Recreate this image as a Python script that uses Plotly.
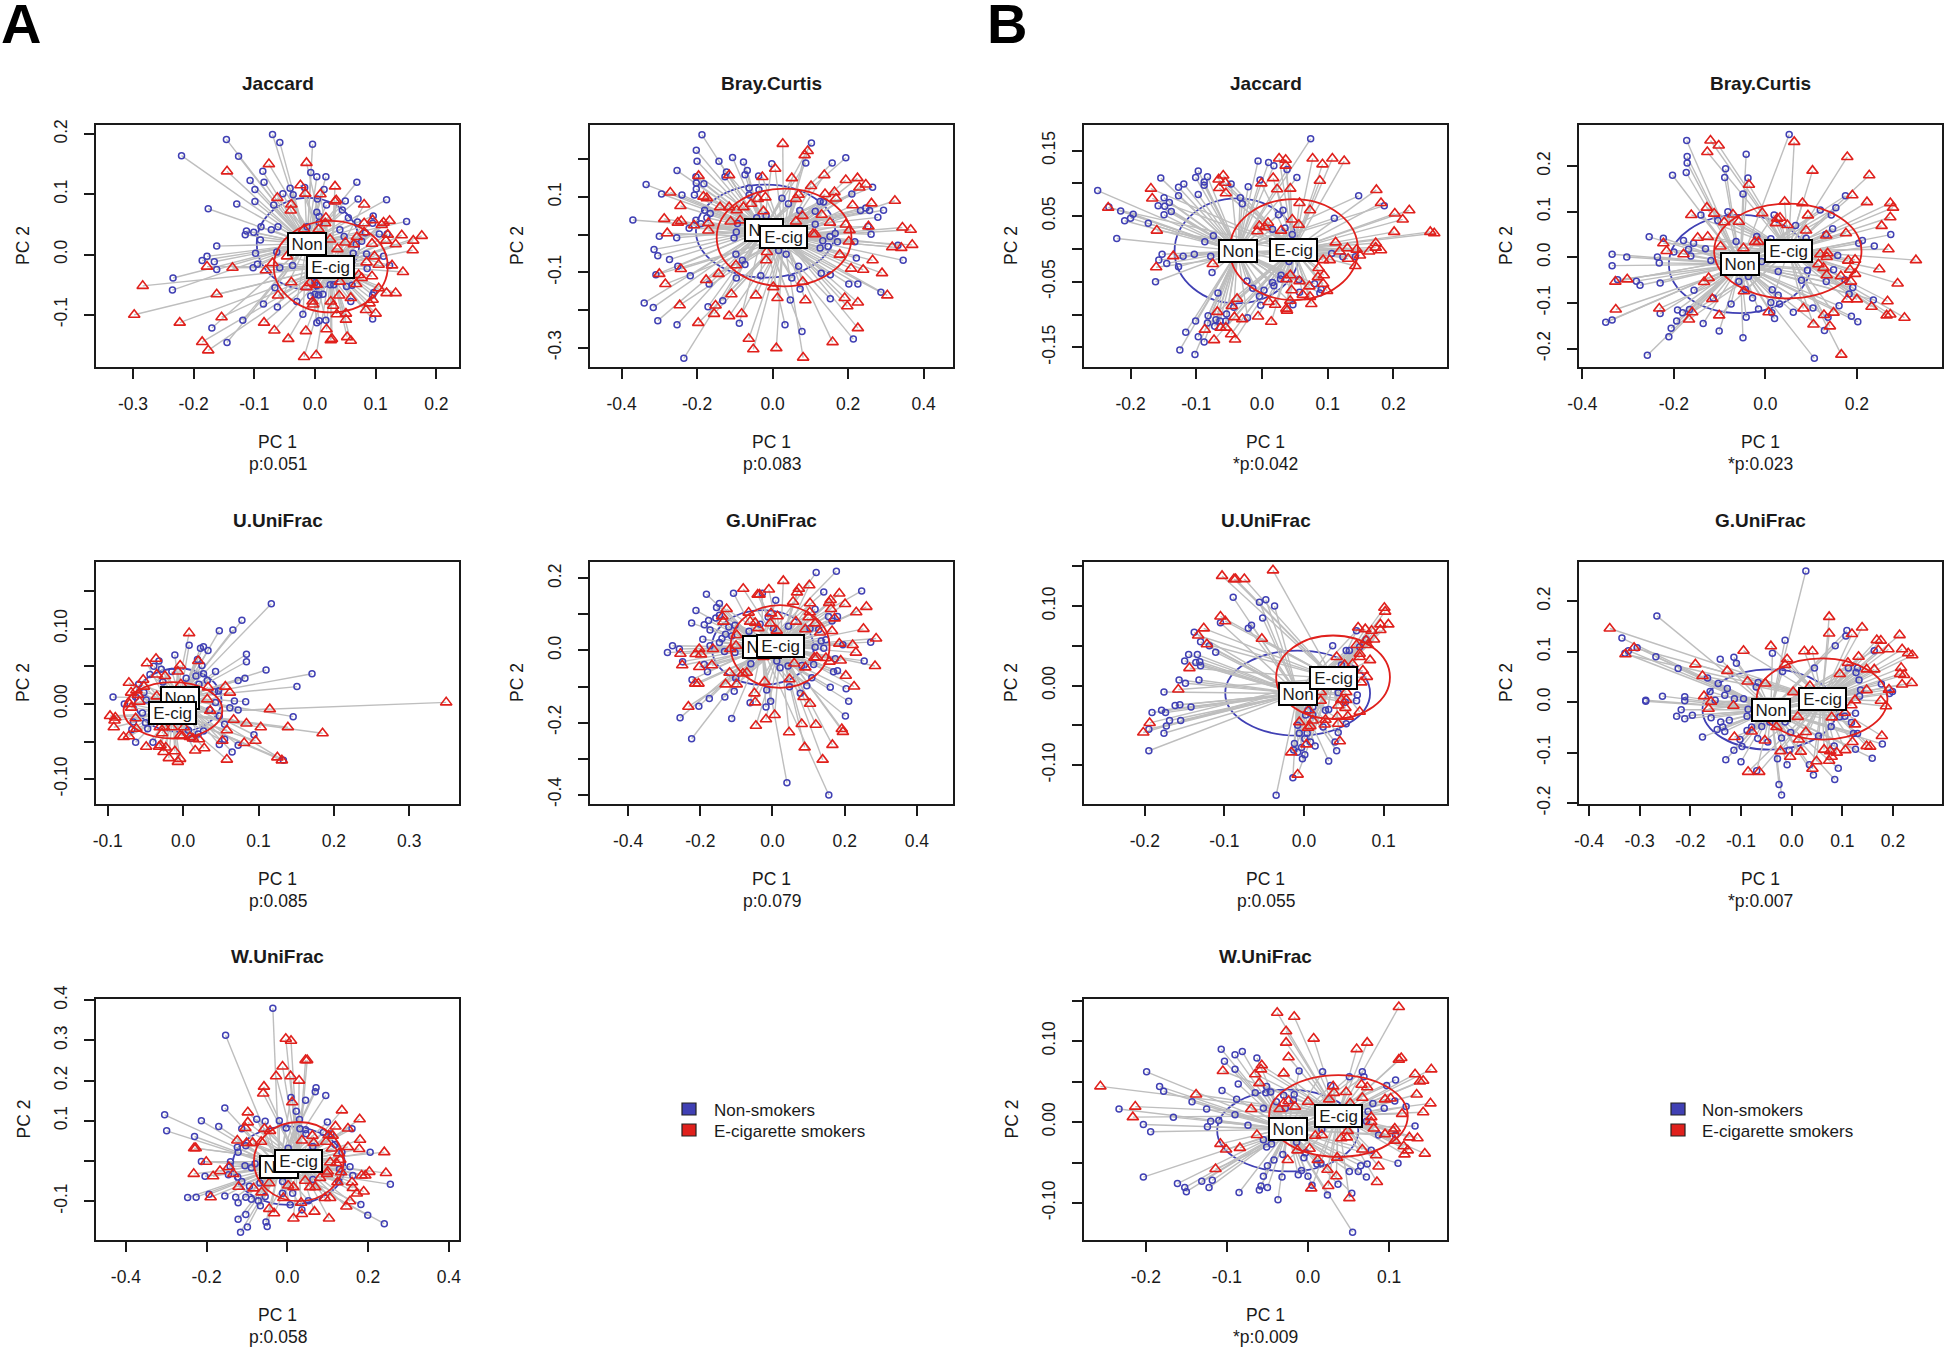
import plotly.graph_objects as go

# ---------- values: (PC 1, PC 2) ----------
A_JAC_NON = [(-.220,.164),(-.146,.191),(-.126,.163),(-.070,.199),(-.058,.186),(-.004,.183),(-.086,.138),(-.107,.123),(-.084,.120),(-.099,.108),(-.099,.088),(-.129,.084),(-.176,.076),(-.053,.101),(-.041,.110),(-.036,.099),(-.068,.082),(-.017,.111),(-.007,.136),(.003,.129),(.018,.129),(.015,.108),(.004,.092),(.019,.082),(.050,.089),(.069,.120),(.071,.092),(.118,.091),(.045,.074),(.055,.061),(.003,.070),(.007,.063),(.007,.053),(.070,.054),(.096,.064),(.095,.052),(.151,.055),(.083,.036),(.106,.034),(.119,.034),(.041,.041),(.048,.030),(.077,.022),(.068,.017),(.063,.002),(.085,.001),(.113,-.003),(.086,-.023),(.123,-.018),(-.013,.046),(-.061,.046),(-.072,.041),(-.089,.046),(-.113,.039),(-.115,.033),(-.101,.037),(-.090,.024),(-.162,.014),(-.098,.002),(-.063,.004),(-.178,-.003),(-.186,-.010),(-.166,-.012),(-.162,-.025),(-.095,-.016),(-.102,-.022),(-.058,-.022),(-.037,-.018),(-.234,-.039),(-.235,-.059),(-.066,-.055),(0,-.047),(.003,-.052),(.025,-.050),(.031,-.050),(.052,-.053),(.061,-.051),(-.007,-.069),(0,-.066),(.006,-.067),(.013,-.066),(.097,-.063),(.095,-.067),(.059,-.078),(-.085,-.082),(-.062,-.087),(-.030,-.078),(-.020,-.099),(-.119,-.109),(-.170,-.122),(-.145,-.146),(.003,-.113),(.007,-.110),(.018,-.109),(.095,-.107)]
A_JAC_ECIG = [(-.076,.150),(-.145,.138),(-.014,.152),(-.024,.115),(-.016,.101),(.009,.100),(.033,.113),(.033,.088),(.035,.090),(-.062,.094),(-.039,.083),(-.040,.073),(.081,.083),(.018,.061),(.017,.052),(.081,.052),(.095,.057),(.113,.053),(.110,.049),(.123,.056),(.117,.023),(.143,.032),(.176,.031),(.162,.023),(.161,.007),(.133,.017),(.120,.033),(.094,.018),(.069,.029),(.064,.017),(.050,.020),(.037,.009),(.025,.025),(-.018,.042),(.006,.042),(.081,.037),(.098,-.003),(.085,-.013),(.105,-.017),(.127,-.018),(.145,-.029),(.072,-.034),(.094,-.036),(.077,-.039),(.041,-.045),(.068,-.049),(.105,-.056),(.118,-.064),(.133,-.064),(.095,-.075),(.090,-.081),(.084,-.092),(.100,-.098),(.059,-.072),(.040,-.068),(.026,-.078),(.030,-.085),(.036,-.099),(.051,-.098),(.051,-.108),(.053,-.137),(.059,-.143),(.028,-.140),(.026,-.142),(.019,-.124),(.002,-.167),(-.018,-.170),(-.015,-.127),(-.044,-.140),(-.067,-.126),(-.084,-.113),(-.154,-.104),(-.176,-.159),(-.186,-.145),(-.223,-.113),(-.298,-.100),(-.284,-.052),(-.162,-.066),(-.178,-.020),(-.136,-.022),(-.081,-.026),(-.070,-.014),(-.046,-.003),(-.039,-.046),(-.061,-.068),(-.004,-.078),(-.003,-.083),(-.014,-.054),(-.008,-.047),(.003,-.050)]

A_BRAY_NON = [(-.187,.265),(.103,.243),(-.202,.224),(-.200,.195),(-.142,.195),(-.106,.205),(-.077,.193),(-.002,.188),(.088,.190),(.158,.190),(.194,.204),(-.253,.170),(-.122,.166),(-.067,.170),(-.126,.154),(-.073,.159),(-.037,.156),(-.203,.154),(-.335,.133),(-.202,.137),(-.182,.135),(-.202,.121),(-.294,.108),(-.240,.105),(-.207,.105),(-.062,.124),(-.036,.119),(-.062,.105),(.265,.126),(.210,.108),(.025,.097),(.042,.082),(.126,.088),(.135,.087),(.247,.071),(.233,.064),(.257,.064),(.294,.065),(.279,.046),(.072,.064),(.113,.062),(-.180,.065),(-.165,.056),(-.174,.045),(-.370,.039),(-.203,.038),(-.190,.029),(-.221,.017),(-.093,.030),(-.042,.045),(-.017,.050),(.113,.028),(.253,.022),(.261,.001),(-.096,.007),(-.102,-.009),(-.300,-.004),(-.254,-.008),(.152,-.005),(.166,.003),(.172,-.019),(.147,-.031),(.133,-.016),(.126,-.035),(.218,-.019),(-.314,-.039),(-.304,-.056),(-.273,-.066),(-.097,-.052),(.016,-.042),(.036,-.052),(.222,-.062),(.332,-.028),(.346,-.068),(-.251,-.084),(-.080,-.068),(-.073,-.079),(.069,-.084),(-.309,-.106),(-.218,-.109),(-.096,-.115),(-.031,-.109),(.051,-.115),(.129,-.102),(.153,-.106),(-.168,-.131),(.202,-.131),(.226,-.131),(.073,-.144),(.287,-.153),(-.132,-.175),(.047,-.173),(.153,-.170),(-.340,-.181),(-.316,-.193),(-.171,-.191),(-.304,-.228),(-.253,-.239),(-.088,-.235),(.033,-.239),(.078,-.257),(.214,-.277),(-.235,-.328)]
A_BRAY_ECIG = [(.027,.241),(.093,.222),(.085,.211),(.007,.175),(-.196,.156),(-.115,.158),(-.027,.153),(.051,.150),(.137,.158),(.194,.145),(.225,.150),(.247,.133),(.230,.125),(.102,.129),(-.271,.112),(-.244,.076),(-.183,.101),(-.174,.097),(.069,.106),(.139,.108),(.164,.113),(.168,.096),(-.019,.099),(-.039,.095),(.062,.095),(.212,.078),(.262,.083),(.324,.090),(-.139,.073),(-.115,.073),(-.077,.073),(-.057,.082),(-.095,.065),(-.024,.062),(.079,.050),(.130,.053),(-.287,.042),(-.251,.032),(-.242,.036),(-.208,.025),(-.170,.031),(-.170,.011),(-.111,.035),(-.086,.038),(.062,.035),(.152,.032),(.194,.027),(.204,.012),(.254,.022),(.344,.019),(.366,.013),(.370,-.027),(.317,-.033),(.341,-.035),(.202,-.018),(.107,.002),(.113,.001),(-.279,.004),(-.015,-.046),(-.017,-.068),(.178,-.053),(.265,-.068),(.208,-.090),(.240,-.093),(.290,-.102),(-.243,-.091),(-.300,-.104),(-.284,-.131),(-.097,-.081),(-.143,-.104),(-.176,-.120),(.080,-.125),(.002,-.139),(-.109,-.158),(-.044,-.161),(.013,-.168),(.087,-.174),(.191,-.168),(.226,-.180),(.198,-.190),(.304,-.161),(-.246,-.187),(-.151,-.188),(-.155,-.210),(-.115,-.216),(-.082,-.210),(-.197,-.234),(.226,-.248),(-.063,-.276),(-.051,-.304),(.010,-.301),(.081,-.326),(.159,-.285)]

A_UNI_NON = [(.117,.133),(.078,.111),(.048,.097),(.066,.098),(.008,.078),(.023,.074),(.027,.076),(.033,.071),(-.011,.065),(.084,.066),(.084,.056),(.019,.059),(.025,.051),(-.032,.057),(-.039,.050),(-.029,.046),(-.044,.039),(-.015,.043),(.043,.043),(.110,.045),(.171,.040),(.082,.034),(.073,.031),(.151,.023),(.004,.034),(.017,.037),(.027,.040),(.032,.031),(.021,.026),(-.027,.029),(-.059,.026),(-.052,.015),(-.093,.009),(-.078,.000),(-.063,.009),(-.049,.005),(.047,.017),(.042,.016),(.068,.004),(.083,.003),(.043,.002),(.062,-.005),(.073,-.008),(.035,-.008),(.146,-.017),(-.054,-.012),(.048,-.016),(-.066,-.024),(-.050,-.025),(-.068,-.034),(-.047,-.033),(.055,-.027),(.094,-.041),(.020,-.040),(.027,-.036),(.007,-.035),(-.063,-.051),(-.040,-.051),(.055,-.047),(.048,-.054),(.073,-.055),(.065,-.064),(.133,-.075),(.011,-.046)]
A_UNI_ECIG = [(.349,.002),(.185,-.039),(.115,-.007),(.139,-.031),(.103,-.031),(.084,-.026),(.067,-.021),(.058,-.035),(.081,-.052),(.096,-.049),(.125,-.071),(.131,-.075),(.058,-.074),(.028,-.059),(.016,-.062),(.052,-.049),(.008,.094),(.020,.057),(-.004,.051),(-.007,.043),(-.036,.060),(-.048,.054),(-.035,.039),(-.024,.037),(-.053,.032),(-.072,.028),(-.052,.023),(-.069,.015),(-.062,.018),(-.060,.012),(-.058,.003),(-.071,.000),(-.069,-.005),(-.035,.010),(-.003,.026),(.056,.023),(.062,.015),(.033,.022),(.032,.006),(.036,-.009),(-.097,-.016),(-.090,-.018),(-.091,-.022),(-.092,-.031),(-.079,-.044),(-.072,-.043),(-.063,-.019),(-.062,-.033),(-.049,-.057),(-.031,-.031),(-.025,-.031),(-.015,-.031),(-.028,-.039),(-.030,-.055),(-.032,-.057),(-.023,-.058),(-.026,-.064),(-.011,-.063),(-.019,-.072),(-.004,-.073),(-.007,-.077),(-.004,-.042),(.001,-.031),(-.001,-.043),(.009,-.044),(.021,-.047),(.013,-.046)]

A_GUNI_NON = [(.177,.220),(.121,.216),(.247,.165),(.142,.162),(-.108,.159),(-.183,.156),(-.028,.159),(.009,.139),(-.147,.130),(-.155,.119),(-.212,.111),(.118,.114),(.180,.094),(.155,.094),(.165,.082),(-.147,.098),(-.157,.090),(-.177,.083),(-.224,.076),(-.189,.071),(-.173,.057),(-.121,.065),(-.104,.070),(-.012,.093),(-.034,.073),(.044,.067),(.003,.061),(-.065,.053),(-.130,.045),(-.140,.033),(-.193,.031),(-.113,.040),(-.147,.022),(-.173,.013),(-.277,.013),(-.258,.004),(-.291,-.006),(-.133,-.003),(-.104,-.006),(.128,.058),(.104,.061),(.148,.030),(.135,.026),(.118,.009),(.142,.006),(.195,.016),(.272,.023),(.254,-.029),(.174,-.023),(.114,-.039),(.081,-.042),(.043,-.043),(.021,-.048),(.012,-.029),(-.060,-.037),(-.249,-.031),(-.189,-.039),(-.180,-.059),(.169,-.059),(.180,-.056),(.109,-.076),(-.102,-.077),(-.223,-.081),(.095,-.098),(.047,-.101),(.160,-.102),(.204,-.106),(-.106,-.113),(-.016,-.110),(.077,-.119),(-.175,-.133),(-.132,-.129),(-.062,-.145),(-.005,-.141),(.211,-.141),(-.204,-.155),(-.018,-.157),(.202,-.182),(-.256,-.187),(-.113,-.189),(-.224,-.245),(.040,-.367),(.156,-.401)]
A_GUNI_ECIG = [(.030,.193),(.102,.181),(.073,.171),(.068,.161),(-.081,.171),(-.010,.169),(-.041,.155),(-.036,.155),(.185,.158),(.161,.140),(.157,.132),(.057,.135),(.104,.131),(.201,.129),(.260,.121),(-.127,.115),(.162,.115),(.232,.106),(.103,.106),(.100,.092),(-.066,.105),(-.139,.094),(.014,.095),(-.004,.103),(-.136,.080),(-.062,.080),(-.048,.077),(-.006,.075),(.065,.080),(.118,.075),(.172,.089),(.252,.060),(.165,.054),(.091,.059),(.132,.050),(-.039,.062),(.012,.055),(-.099,.043),(.287,.033),(.222,.015),(.185,.019),(-.101,.013),(-.117,.004),(-.203,.004),(-.165,.004),(-.213,-.010),(-.198,-.011),(-.255,-.009),(.231,-.006),(.148,-.021),(.116,-.020),(.123,-.019),(.158,-.031),(.189,-.028),(-.250,-.041),(-.203,-.046),(-.168,-.041),(.060,-.036),(.091,-.047),(.284,-.043),(-.119,-.062),(-.082,-.064),(-.071,-.062),(.203,-.070),(.047,-.080),(-.022,-.087),(-.130,-.094),(-.099,-.094),(-.214,-.092),(-.205,-.092),(.226,-.100),(-.050,-.119),(.086,-.129),(-.048,-.144),(.104,-.148),(-.233,-.156),(.006,-.179),(-.018,-.191),(.081,-.204),(.120,-.206),(-.046,-.209),(.046,-.227),(.192,-.218),(.195,-.226),(.166,-.262),(.089,-.269),(.139,-.303),(-.025,-.018)]

A_WUNI_NON = [(-.036,.380),(-.153,.313),(.071,.182),(.069,.172),(.095,.163),(.009,.158),(.045,.151),(-.155,.132),(.022,.124),(-.304,.115),(-.213,.100),(-.170,.086),(-.299,.075),(-.230,.061),(-.076,.104),(-.055,.099),(-.020,.100),(.030,.103),(.099,.097),(-.113,.080),(-.003,.082),(.031,.080),(.045,.078),(.046,.068),(.160,.080),(.089,.071),(.108,.067),(.118,.041),(.135,.022),(.205,.022),(-.124,.034),(-.103,.038),(.063,.036),(.002,.032),(-.122,.022),(-.213,-.001),(-.141,-.002),(-.142,-.013),(-.105,-.012),(-.089,-.017),(-.080,-.007),(.129,-.020),(.155,-.014),(-.204,-.038),(-.146,-.034),(-.123,-.040),(-.113,-.051),(-.094,-.063),(-.068,-.055),(-.012,-.051),(.063,-.046),(.127,-.051),(.162,-.036),(.255,-.058),(-.247,-.091),(-.226,-.090),(-.194,-.083),(-.155,-.087),(-.128,-.090),(-.122,-.104),(-.103,-.090),(-.089,-.095),(-.072,-.099),(-.055,-.088),(-.067,-.111),(-.012,-.080),(.013,-.080),(.007,-.109),(.052,-.099),(.036,-.121),(.182,-.108),(.199,-.135),(.240,-.156),(-.103,-.133),(-.122,-.145),(-.099,-.164),(-.116,-.177),(-.053,-.152),(-.050,-.163)]
A_WUNI_ECIG = [(-.004,.304),(.009,.299),(.045,.251),(.049,.251),(-.012,.235),(.008,.211),(-.028,.211),(.029,.200),(-.058,.185),(-.060,.168),(.012,.146),(.135,.126),(-.098,.121),(-.098,.096),(-.104,.082),(-.057,.080),(-.043,.075),(.179,.104),(.119,.086),(.150,.081),(.102,.064),(.112,.063),(.096,.048),(.062,.063),(.036,.051),(.065,.045),(-.124,.051),(.180,.053),(-.231,.032),(-.227,.032),(-.101,.045),(-.086,.045),(-.065,.048),(.110,.031),(.150,.035),(.178,.030),(.240,.022),(.128,.019),(-.201,-.002),(.106,-.003),(.121,-.005),(.131,.003),(-.145,-.015),(-.167,-.025),(-.232,-.032),(-.184,-.038),(-.134,-.032),(.100,-.026),(.098,-.032),(.133,-.028),(.203,-.027),(.184,-.036),(.193,-.036),(.244,-.030),(.081,-.042),(.124,-.053),(.160,-.053),(-.121,-.064),(-.045,-.055),(.044,-.049),(.002,-.061),(.015,-.065),(.056,-.065),(.069,-.065),(-.084,-.068),(-.064,-.078),(.162,-.067),(.172,-.081),(.189,-.076),(-.190,-.090),(-.010,-.092),(.093,-.092),(.106,-.092),(.155,-.100),(.146,-.113),(.034,-.104),(.036,-.132),(-.045,-.119),(-.033,-.130),(.067,-.126),(.015,-.143),(.103,-.143)]

B_JAC_NON = [(.074,.168),(-.006,.134),(.010,.132),(.018,.127),(.038,.121),(-.097,.119),(-.101,.109),(-.083,.110),(-.154,.108),(-.088,.102),(-.088,.097),(-.119,.099),(-.127,.094),(.053,.109),(-.003,.105),(-.021,.095),(-.047,.099),(-.250,.089),(-.127,.081),(-.097,.083),(-.149,.078),(-.141,.071),(-.158,.066),(-.148,.065),(-.033,.078),(-.030,.069),(-.233,.064),(-.215,.058),(-.138,.057),(-.149,.052),(-.196,.053),(-.200,.047),(-.209,.043),(-.173,.039),(.147,.081),(.186,.066),(.110,.047),(.032,.059),(.025,.052),(.035,.032),(.016,.030),(.046,.022),(-.221,.016),(-.074,.020),(-.087,.011),(-.152,-.008),(-.120,-.011),(-.103,-.008),(-.078,-.011),(-.157,-.017),(-.145,-.022),(-.127,-.027),(-.076,-.036),(-.162,-.050),(.106,-.007),(.123,-.012),(.142,-.012),(.041,-.019),(.029,-.040),(.028,-.046),(.016,-.051),(-.023,-.049),(.018,-.056),(.003,-.063),(-.014,-.060),(.056,-.047),(.080,-.053),(.090,-.062),(.088,-.067),(.057,-.066),(-.067,-.067),(-.004,-.072),(-.002,-.086),(.047,-.085),(-.043,-.089),(-.054,-.099),(-.082,-.102),(-.022,-.105),(-.101,-.110),(-.070,-.108),(-.064,-.110),(-.055,-.110),(-.083,-.113),(-.072,-.118),(-.116,-.127),(-.097,-.134),(-.088,-.142),(-.125,-.154),(-.102,-.161)]
B_JAC_ECIG = [(.026,.138),(.036,.136),(.036,.127),(.077,.138),(.107,.138),(.125,.134),(.092,.129),(-.059,.112),(-.066,.106),(-.056,.101),(-.065,.093),(-.001,.100),(.017,.108),(.088,.104),(-.169,.092),(.023,.091),(.043,.092),(.174,.090),(-.055,.085),(-.167,.077),(.057,.070),(.181,.070),(-.234,.063),(.073,.059),(.202,.054),(.224,.059),(.214,.045),(.046,.045),(.056,.037),(.009,.040),(-.004,.035),(.004,.033),(-.007,.027),(.029,.028),(-.160,.028),(.201,.026),(.256,.026),(.262,.024),(.112,.010),(.173,.009),(.130,.001),(.144,-.001),(.173,.002),(.181,-.002),(.163,-.004),(.118,-.004),(.149,-.010),(-.135,-.011),(.131,-.015),(.103,-.017),(.093,-.017),(.142,-.026),(-.161,-.028),(-.075,-.023),(.086,-.029),(.094,-.040),(.085,-.043),(.043,-.040),(.057,-.049),(.093,-.053),(.037,-.046),(.072,-.057),(.045,-.063),(.099,-.064),(.062,-.070),(.073,-.073),(-.038,-.076),(.043,-.079),(.010,-.081),(.020,-.085),(.075,-.084),(-.046,-.087),(-.068,-.096),(.037,-.091),(.038,-.094),(-.042,-.104),(-.030,-.107),(-.006,-.103),(.014,-.111),(-.087,-.123),(-.063,-.120),(-.055,-.120),(-.047,-.130),(-.073,-.139),(-.041,-.138)]

B_BRAY_NON = [(.052,.269),(-.172,.256),(-.042,.226),(-.171,.221),(-.171,.207),(-.087,.194),(-.173,.186),(-.203,.180),(-.089,.175),(-.038,.174),(-.049,.139),(.175,.135),(.154,.109),(.120,.104),(.144,.093),(-.141,.093),(-.082,.100),(-.104,.081),(.019,.093),(.066,.070),(.147,.063),(.132,.050),(.274,.050),(-.254,.045),(-.223,.042),(-.019,.046),(.012,.041),(.089,.042),(.212,.037),(.204,.031),(-.179,.037),(-.064,.035),(-.157,.031),(-.131,.019),(-.168,.018),(.238,.025),(-.335,.007),(-.303,.001),(-.236,.001),(-.200,.012),(-.163,.003),(.158,.004),(-.119,-.007),(-.232,-.012),(-.335,-.018),(-.008,-.009),(.092,-.028),(.028,-.031),(.149,-.027),(-.323,-.049),(-.282,-.052),(-.274,-.061),(-.230,-.056),(-.037,-.042),(-.058,-.053),(.079,-.050),(.133,-.053),(.174,-.049),(.191,-.066),(-.156,-.072),(-.044,-.070),(.015,-.071),(.028,-.083),(.183,-.080),(-.114,-.089),(-.028,-.089),(-.075,-.102),(.012,-.099),(.031,-.102),(.236,-.093),(.161,-.106),(-.192,-.115),(-.181,-.121),(-.166,-.114),(-.230,-.123),(-.015,-.113),(.014,-.121),(.061,-.120),(.104,-.111),(.020,-.134),(.188,-.129),(.137,-.131),(.202,-.141),(-.042,-.131),(-.335,-.137),(-.349,-.142),(-.194,-.139),(-.136,-.145),(-.206,-.155),(-.101,-.161),(.129,-.160),(-.211,-.174),(-.049,-.176),(-.258,-.214),(.107,-.221)]
B_BRAY_ECIG = [(-.120,.256),(-.102,.245),(.063,.253),(-.127,.231),(.179,.220),(.103,.190),(.227,.180),(-.036,.159),(.190,.136),(.042,.122),(.081,.119),(.222,.121),(.273,.119),(.279,.109),(-.128,.109),(-.162,.093),(-.112,.096),(-.007,.097),(-.071,.094),(.093,.092),(.032,.087),(.026,.085),(.273,.088),(.023,.075),(-.058,.078),(-.090,.077),(.048,.071),(.089,.059),(.254,.069),(.176,.053),(.133,.048),(-.148,.043),(-.126,.045),(-.223,.031),(-.023,.034),(-.015,.034),(-.098,.024),(-.048,.020),(-.216,.014),(-.179,.007),(.269,.018),(.120,.007),(.136,.009),(.134,.001),(.181,-.007),(.196,-.005),(.329,-.006),(.116,-.015),(.127,-.023),(.185,-.027),(.249,-.026),(.196,-.036),(.134,-.039),(.165,-.041),(-.124,-.045),(-.134,-.054),(-.328,-.053),(-.302,-.048),(.187,-.053),(.289,-.057),(-.047,-.074),(-.116,-.091),(.179,-.092),(.200,-.092),(.267,-.096),(-.327,-.114),(-.232,-.112),(.083,-.112),(.232,-.108),(-.160,-.120),(-.101,-.127),(.007,-.120),(.128,-.126),(.149,-.121),(.265,-.127),(.273,-.125),(.304,-.132),(-.167,-.136),(.105,-.147),(.141,-.151),(.166,-.213)]

B_UNI_NON = [(-.089,.111),(-.048,.108),(-.056,.105),(-.037,.100),(-.052,.085),(-.105,.079),(-.066,.076),(-.070,.072),(-.138,.067),(-.130,.055),(-.119,.050),(-.111,.042),(-.145,.039),(-.134,.039),(-.150,.031),(-.136,.029),(-.131,.030),(-.130,.025),(-.157,.007),(-.149,.003),(-.132,.007),(-.176,-.008),(-.162,-.025),(-.156,-.024),(-.142,-.027),(-.179,-.031),(-.174,-.034),(-.191,-.034),(-.169,-.044),(-.155,-.044),(-.173,-.051),(-.195,-.055),(-.176,-.060),(-.195,-.082),(.036,.050),(.053,.044),(.057,.044),(.066,.069),(.078,.058),(.070,.049),(.047,.026),(.043,-.009),(.067,-.012),(.066,-.019),(.052,-.021),(.027,-.031),(.031,-.030),(.011,-.027),(.005,-.031),(.011,-.037),(.002,-.037),(.053,-.048),(.043,-.059),(.024,-.052),(-.008,-.050),(-.006,-.060),(.004,-.060),(.001,-.067),(.008,-.071),(.039,-.071),(.014,-.076),(-.012,-.073),(-.013,-.081),(-.008,-.084),(-.003,-.078),(.001,-.087),(-.002,-.092),(.041,-.082),(.031,-.095),(-.014,-.116),(-.035,-.138)]
B_UNI_ECIG = [(-.039,.145),(-.103,.138),(-.088,.134),(-.086,.134),(-.075,.134),(.101,.098),(.102,.093),(-.105,.087),(-.099,.081),(-.126,.072),(-.133,.063),(-.053,.059),(-.122,.052),(-.144,.022),(-.158,-.005),(-.194,-.047),(-.202,-.059),(.106,.077),(.096,.077),(.096,.070),(.068,.073),(.077,.071),(.085,.069),(.088,.058),(.078,.057),(.080,.051),(.066,.051),(.041,.036),(.070,.036),(.083,.032),(.070,.040),(.051,.026),(.061,.027),(.074,.019),(.079,.011),(.072,.004),(.053,-.008),(.021,-.008),(.021,-.019),(.047,-.018),(.053,-.018),(.043,-.025),(.052,-.028),(.070,-.033),(.006,-.031),(.055,-.039),(.042,-.039),(.011,-.044),(.027,-.043),(-.006,-.046),(.043,-.048),(.026,-.049),(.008,-.051),(.005,-.053),(.003,-.074),(.045,-.070),(-.016,-.084),(-.008,-.112)]

B_GUNI_NON = [(.028,.260),(-.266,.171),(.109,.142),(.107,.131),(-.335,.127),(-.013,.123),(.086,.112),(.163,.102),(-.305,.108),(-.322,.102),(-.329,.097),(-.038,.097),(-.268,.090),(-.114,.089),(-.141,.085),(-.109,.077),(-.224,.067),(.045,.068),(.112,.068),(.130,.068),(.127,.059),(-.018,.061),(-.166,.048),(-.145,.037),(-.066,.039),(-.070,.030),(.133,.044),(.177,.036),(-.127,.027),(-.161,.021),(.136,.024),(.199,.021),(.193,.017),(-.255,.012),(-.288,.004),(-.288,.002),(-.211,.011),(-.211,.003),(-.132,.014),(-.113,.007),(-.095,.007),(-.151,.004),(.134,.012),(-.218,-.015),(-.227,-.028),(-.211,-.033),(-.196,-.026),(-.086,-.014),(-.088,-.028),(-.159,-.031),(-.123,-.036),(-.140,-.039),(-.136,-.049),(-.147,-.054),(-.132,-.058),(-.079,-.049),(-.059,-.048),(-.088,-.056),(-.043,-.039),(-.013,-.039),(.095,-.029),(.105,-.028),(.126,-.022),(.118,-.040),(.078,-.048),(-.002,-.060),(.053,-.067),(.122,-.062),(.130,-.062),(-.176,-.069),(-.102,-.074),(-.067,-.072),(-.047,-.079),(-.020,-.071),(-.098,-.088),(-.114,-.095),(-.005,-.095),(.084,-.087),(.126,-.093),(.179,-.083),(-.130,-.114),(-.100,-.118),(-.028,-.112),(.159,-.111),(-.009,-.124),(.035,-.124),(.043,-.144),(.092,-.131),(-.069,-.136),(.085,-.153),(-.025,-.163),(-.020,-.184)]
B_GUNI_ECIG = [(-.359,.146),(.074,.169),(.139,.148),(.074,.136),(.119,.135),(.213,.133),(.168,.123),(.176,.122),(-.311,.108),(-.041,.111),(.025,.101),(.041,.101),(-.095,.102),(.171,.103),(.191,.105),(.218,.105),(.230,.097),(.238,.093),(-.328,.095),(.132,.090),(-.009,.085),(-.013,.074),(.111,.078),(-.190,.075),(.216,.068),(.148,.065),(.163,.065),(-.127,.062),(-.176,.052),(.095,.056),(.214,.056),(.222,.054),(-.087,.041),(-.052,.037),(.036,.032),(.218,.035),(.237,.038),(.148,.024),(.003,.020),(.192,.025),(-.173,.012),(.125,.004),(.176,.003),(-.159,.001),(-.115,-.007),(.186,-.008),(.118,-.006),(-.164,-.013),(.105,-.021),(.012,-.029),(.079,-.030),(.125,-.044),(-.030,-.049),(-.079,-.058),(.028,-.059),(-.113,-.069),(.178,-.067),(-.053,-.076),(.014,-.074),(.120,-.079),(-.022,-.097),(.018,-.098),(.064,-.094),(.076,-.097),(.089,-.100),(.106,-.095),(.148,-.087),(.155,-.088),(.079,-.108),(-.003,-.108),(.074,-.116),(.049,-.117),(.041,-.132),(-.086,-.138),(-.064,-.138)]

B_WUNI_NON = [(-.107,.090),(-.081,.087),(-.090,.083),(-.103,.075),(-.063,.079),(-.090,.065),(-.011,.063),(.018,.062),(.067,.062),(.069,.056),(.051,.056),(-.199,.062),(-.183,.044),(-.178,.038),(-.086,.047),(-.106,.039),(.108,.052),(.097,.045),(.028,.045),(-.051,.044),(-.065,.036),(-.046,.037),(-.052,.036),(-.030,.033),(-.017,.034),(-.018,.027),(-.039,.025),(-.028,.017),(-.088,.028),(-.143,.025),(.107,.026),(.121,.019),(.080,.023),(.094,.017),(-.055,.017),(-.125,.016),(-.090,.009),(-.233,.016),(-.166,.006),(.074,.013),(-.120,.001),(-.110,.002),(.072,.001),(-.203,-.003),(-.124,-.006),(-.074,-.004),(-.194,-.012),(.132,-.005),(.087,-.016),(.108,-.016),(.017,-.009),(-.055,-.022),(-.014,-.025),(-.051,-.031),(-.045,-.027),(.078,-.035),(-.031,-.040),(-.005,-.044),(-.003,-.038),(-.042,-.047),(.011,-.052),(.016,-.051),(.111,-.051),(.073,-.052),(.065,-.054),(-.050,-.054),(-.008,-.060),(.051,-.061),(.062,-.061),(-.012,-.065),(.000,-.067),(.072,-.068),(-.055,-.067),(-.032,-.068),(-.203,-.068),(-.161,-.076),(-.131,-.073),(-.118,-.072),(-.122,-.081),(-.152,-.081),(-.150,-.086),(-.085,-.087),(-.058,-.079),(-.060,-.084),(-.050,-.081),(.005,-.078),(.037,-.077),(.024,-.090),(-.037,-.096),(.054,-.088),(.055,-.136)]
B_WUNI_ECIG = [(.112,.142),(-.038,.135),(-.017,.130),(-.027,.112),(.007,.103),(-.027,.098),(.073,.098),(.060,.090),(-.024,.080),(.115,.079),(.112,.077),(-.057,.070),(-.058,.065),(-.105,.063),(-.065,.059),(-.030,.060),(.152,.065),(.132,.059),(.142,.051),(.138,.050),(-.060,.048),(-.256,.044),(.031,.044),(.066,.046),(.073,.043),(.047,.037),(.032,.036),(-.138,.034),(.134,.034),(.067,.030),(.026,.028),(.095,.028),(.102,.029),(.000,.025),(-.030,.023),(-.024,.026),(-.016,.019),(.052,.023),(.151,.023),(-.213,.019),(-.070,.016),(-.035,.016),(.142,.012),(.116,.010),(-.216,.006),(.078,.006),(.078,.000),(.081,-.008),(.107,-.008),(.049,-.011),(.095,-.015),(.105,-.011),(-.063,-.016),(.009,-.017),(.017,-.016),(.041,-.020),(.048,-.019),(.125,-.019),(.135,-.020),(-.108,-.027),(.107,-.023),(-.101,-.034),(-.084,-.032),(-.013,-.035),(.002,-.033),(.067,-.034),(.118,-.030),(.123,-.035),(.119,-.040),(.144,-.039),(.084,-.041),(-.025,-.047),(.012,-.047),(.036,-.044),(.087,-.055),(-.114,-.058),(.024,-.059),(.035,-.067),(.085,-.074),(.025,-.079),(.004,-.082),(.051,-.094)]

# group centres and ellipse extents (x min, x max, y min, y max)
CENTRES = {
 "A_JAC": ((-.013,.018),(.026,-.020)), "A_BRAY": ((-.024,.012),(.029,-.007)),
 "A_UNI": ((-.004,.008),(-.014,-.012)), "A_GUNI": ((-.029,.009),(.022,.012)),
 "A_WUNI": ((-.020,-.015),(.027,-.001)), "B_JAC": ((-.037,-.003),(.048,-.001)),
 "B_BRAY": ((-.055,-.015),(.050,.015)), "B_UNI": ((-.008,-.010),(.037,.009)),
 "B_GUNI": ((-.041,-.015),(.060,.006)), "B_WUNI": ((-.025,-.009),(.037,.008)),
}
ELLIPSES = {
 "A_JAC": ((-.096,.073,-.058,.094),(-.068,.120,-.096,.056)),
 "A_BRAY": ((-.203,.166,-.114,.133),(-.148,.209,-.137,.122)),
 "A_UNI": ((-.064,.051,-.037,.047),(-.079,.052,-.046,.029)),
 "A_GUNI": ((-.168,.114,-.096,.112),(-.116,.158,-.104,.126)),
 "A_WUNI": ((-.136,.143,-.109,.086),(-.083,.139,-.100,.097)),
 "B_JAC": ((-.133,.057,-.083,.077),(-.049,.146,-.078,.076)),
 "B_BRAY": ((-.211,.099,-.122,.093),(-.112,.210,-.090,.118)),
 "B_UNI": ((-.099,.083,-.063,.044),(-.035,.108,-.042,.063)),
 "B_GUNI": ((-.176,.089,-.094,.065),(-.069,.189,-.074,.087)),
 "B_WUNI": ((-.112,.062,-.061,.040),(-.048,.123,-.043,.058)),
}
TITLES = {"JAC":"Jaccard","BRAY":"Bray.Curtis","UNI":"U.UniFrac","GUNI":"G.UniFrac","WUNI":"W.UniFrac"}
P_TEXT = {"A_JAC":"p:0.051","A_BRAY":"p:0.083","A_UNI":"p:0.085","A_GUNI":"p:0.079","A_WUNI":"p:0.058",
          "B_JAC":"*p:0.042","B_BRAY":"*p:0.023","B_UNI":"p:0.055","B_GUNI":"*p:0.007","B_WUNI":"*p:0.009"}
DATA = {"A_JAC":(A_JAC_NON,A_JAC_ECIG),"A_BRAY":(A_BRAY_NON,A_BRAY_ECIG),"A_UNI":(A_UNI_NON,A_UNI_ECIG),
        "A_GUNI":(A_GUNI_NON,A_GUNI_ECIG),"A_WUNI":(A_WUNI_NON,A_WUNI_ECIG),"B_JAC":(B_JAC_NON,B_JAC_ECIG),
        "B_BRAY":(B_BRAY_NON,B_BRAY_ECIG),"B_UNI":(B_UNI_NON,B_UNI_ECIG),"B_GUNI":(B_GUNI_NON,B_GUNI_ECIG),
        "B_WUNI":(B_WUNI_NON,B_WUNI_ECIG)}
# axis: x range, y range, x ticks, y ticks, y tick labels
AXES = {
 "A_JAC": ((-.361,.2374),(-.1866,.2149),[-.3,-.2,-.1,0,.1,.2],[-.1,0,.1,.2],["-0.1","0.0","0.1","0.2"]),
 "A_BRAY": ((-.4836,.478),(-.351,.291),[-.4,-.2,0,.2,.4],[-.3,-.2,-.1,0,.1,.2],["-0.3","","-0.1","","0.1",""]),
 "A_UNI": ((-.1156,.366),(-.133,.1885),[-.1,0,.1,.2,.3],[-.1,-.05,0,.05,.1,.15],["-0.10","","0.00","","0.10",""]),
 "A_GUNI": ((-.5055,.5),(-.426,.2454),[-.4,-.2,0,.2,.4],[-.4,-.3,-.2,-.1,0,.1,.2],["-0.4","","-0.2","","0.0","","0.2"]),
 "A_WUNI": ((-.474,.425),(-.1965,.403),[-.4,-.2,0,.2,.4],[-.1,0,.1,.2,.3,.4],["-0.1","","0.1","0.2","0.3","0.4"]),
 "B_JAC": ((-.2708,.2814),(-.18,.189),[-.2,-.1,0,.1,.2],[-.15,-.1,-.05,0,.05,.1,.15],["-0.15","","-0.05","","0.05","","0.15"]),
 "B_BRAY": ((-.4074,.386),(-.24,.29),[-.4,-.2,0,.2],[-.2,-.1,0,.1,.2],["-0.2","-0.1","0.0","0.1","0.2"]),
 "B_UNI": ((-.2765,.1797),(-.149,.1555),[-.2,-.1,0,.1],[-.1,-.05,0,.05,.1,.15],["-0.10","","0.00","","0.10",""]),
 "B_GUNI": ((-.4197,.2967),(-.2017,.2778),[-.4,-.3,-.2,-.1,0,.1,.2],[-.2,-.1,0,.1,.2],["-0.2","-0.1","0.0","0.1","0.2"]),
 "B_WUNI": ((-.2762,.1714),(-.1457,.1519),[-.2,-.1,0,.1],[-.1,-.05,0,.05,.1,.15],["-0.10","","0.00","","0.10",""]),
}
LEGEND_LABELS = ["Non-smokers", "E-cigarette smokers"]

# ---------- layout and style ----------
W, H = 1944, 1349
BOXES = {"A_JAC":(96,459,125,367),"A_BRAY":(590,953,125,367),"A_UNI":(96,459,562,804),"A_GUNI":(590,953,562,804),
         "A_WUNI":(96,459,999,1240),"B_JAC":(1084,1447,125,367),"B_BRAY":(1579,1942,125,367),"B_UNI":(1084,1447,562,804),
         "B_GUNI":(1579,1942,562,804),"B_WUNI":(1084,1447,999,1240)}
BLUE, RED, GREY, INK = "#4040B4", "#E0201C", "#BEBEBE", "#1a1a1a"
FONT = "Liberation Sans, Arial, sans-serif"
px = lambda v: v / W
py = lambda v: 1 - v / H

fig = go.Figure()
annotations, shapes = [], []

def text(x, y, s, size, bold=False, angle=0, anchor="center", color=INK):
    annotations.append(dict(xref="paper", yref="paper", x=px(x), y=py(y), text=f"<b>{s}</b>" if bold else s,
                            showarrow=False, xanchor=anchor, yanchor="middle", textangle=angle,
                            font=dict(family=FONT, size=size, color=color)))

for i, key in enumerate(DATA, start=1):
    x0, x1, y0, y1 = BOXES[key]
    xr, yr, xt, yt, ytl = AXES[key]
    sx = "" if i == 1 else str(i)
    common = dict(showgrid=False, zeroline=False, showline=True, mirror=True, linecolor=INK, linewidth=2,
                  ticks="outside", ticklen=10, tickwidth=1.6, tickcolor=INK, ticklabelstandoff=10,
                  tickfont=dict(family=FONT, size=17.5, color=INK))
    fig.layout[f"xaxis{sx}"] = dict(domain=[px(x0), px(x1)], range=list(xr), anchor=f"y{sx}", tickmode="array",
                                    tickvals=xt, ticktext=[f"{v:.1f}" for v in xt], **common)
    fig.layout[f"yaxis{sx}"] = dict(domain=[py(y1), py(y0)], range=list(yr), anchor=f"x{sx}", tickmode="array",
                                    tickvals=yt, ticktext=ytl, tickangle=-90, **common)
    xa, ya = f"x{sx}", f"y{sx}"
    for pts, c in zip(DATA[key], CENTRES[key]):
        lx, ly = [], []
        for p in pts:
            lx += [c[0], p[0], None]
            ly += [c[1], p[1], None]
        fig.add_trace(go.Scatter(x=lx, y=ly, mode="lines", xaxis=xa, yaxis=ya, showlegend=False, hoverinfo="skip",
                                 line=dict(color=GREY, width=1.4)))
    for pts, col, sym, size, lw in zip(DATA[key], (BLUE, RED), ("circle-open", "triangle-up-open"), (6, 10), (1.5, 1.6)):
        fig.add_trace(go.Scatter(x=[p[0] for p in pts], y=[p[1] for p in pts], mode="markers", xaxis=xa, yaxis=ya,
                                 showlegend=False,
                                 marker=dict(symbol=sym, size=size, color=col, line=dict(color=col, width=lw))))
    for e, col, layer in zip(ELLIPSES[key], (BLUE, RED), ("below", "above")):
        shapes.append(dict(type="circle", xref=xa, yref=ya, x0=e[0], x1=e[1], y0=e[2], y1=e[3], layer=layer,
                           line=dict(color=col, width=1.8)))
    for c, lab, wd in zip(CENTRES[key], ("Non", "E-cig"), (36, 45)):
        annotations.append(dict(xref=xa, yref=ya, x=c[0], y=c[1], text=lab, showarrow=False, bgcolor="white",
                                bordercolor="black", borderwidth=2, borderpad=0, width=wd, height=20, align="center",
                                font=dict(family=FONT, size=17, color=INK)))
    cx = (x0 + x1) / 2
    text(cx, y0 - 42, TITLES[key.split("_")[1]], 19, bold=True)
    text(cx, y1 + 75, "PC 1", 17.5)
    text(cx, y1 + 97, P_TEXT[key], 17.5)
    text(x0 - 73, (y0 + y1) / 2, "PC 2", 17.5, angle=-90)

text(21, 23, "A", 56, bold=True, color="black")
text(1007, 23, "B", 56, bold=True, color="black")

for sq_x, tx_x in ((682, 712), (1671, 1700)):
    for y_mid, col, lab in zip((1109, 1130), (BLUE, RED), LEGEND_LABELS):
        shapes.append(dict(type="rect", xref="paper", yref="paper", x0=px(sq_x), x1=px(sq_x + 14),
                           y0=py(y_mid + 6), y1=py(y_mid - 6), fillcolor=col, line=dict(color="#222", width=1.2)))
        text(tx_x, y_mid + 1, lab, 17, anchor="left")

fig.update_layout(width=W, height=H, margin=dict(l=0, r=0, t=0, b=0, pad=0, autoexpand=False),
                  paper_bgcolor="white", plot_bgcolor="white",
                  showlegend=False, annotations=annotations, shapes=shapes)
fig.write_html("out.html", post_script="document.body.style.margin='0';", config={"displayModeBar": False})
